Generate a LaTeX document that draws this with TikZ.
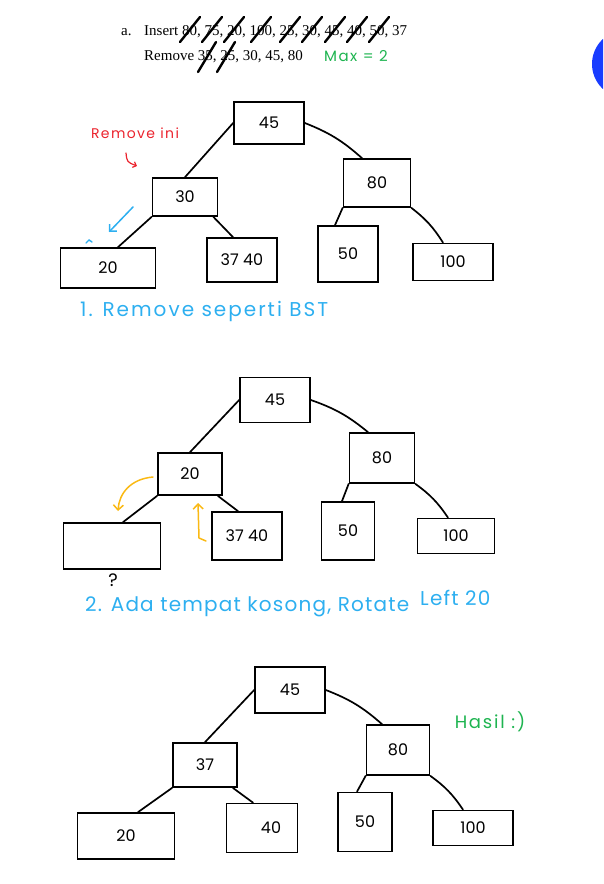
\documentclass[tikz,border=0pt]{standalone}
\usepackage{fontspec}
\setmainfont{Liberation Serif}
\newfontfamily\hand{Poppins}
\newfontfamily\handwide{Poppins}[LetterSpace=10]
\newfontfamily\handmid{Poppins}[LetterSpace=6]
\usepackage{tikz}
\usetikzlibrary{positioning,arrows.meta}
\definecolor{inkblue}{RGB}{45,175,240}
\definecolor{inkred}{RGB}{235,35,45}
\definecolor{inkgreen}{RGB}{30,180,80}
\definecolor{inkorange}{RGB}{250,185,20}
\definecolor{dotblue}{RGB}{25,60,255}
\tikzset{
  treenode/.style = {shape=rectangle, draw, line width=1.7pt, inner sep=0pt,
                     font=\hand\fontsize{16}{16}\selectfont},
  note/.style     = {inner sep=0pt, font=\handwide\fontsize{20}{20}\selectfont},
  task/.style     = {inner sep=0pt, anchor=base west,
                     font=\fontsize{15}{15}\selectfont},
  strike/.style   = {line width=2.4pt, line cap=round},
  link/.style     = {draw, line width=1.7pt, line cap=round},
  hint/.style     = {line width=1.5pt, line cap=round, -{Straight Barb[length=5pt]}}
}

\begin{document}
\begin{tikzpicture}[x=1pt, y=-1pt]
  \useasboundingbox (0,0) rectangle (603,884);
  \begin{scope}
    \clip (0,0) rectangle (603,884);
    \fill [dotblue] (626,64) circle [radius=34pt];
  \end{scope}

  % soal
  \node [task] (a) at (121,35) {a.};
  \node [task] (ins) at (144,35) {Insert 80, 75, 20, 100, 25, 30, 45, 40, 50, 37};
  \node [task] (rem) at (144,60) {Remove 35, 25, 30, 45, 80};
  \node [note, inkgreen, font=\handwide\fontsize{15}{15}\selectfont] (max) at (356,56) {Max = 2};
  \foreach \c in {190,212,234,261,290,312,335,357,379}
    \draw [strike] (\c-10,42) -- (\c+10,17);
  \foreach \c in {207,226}
    \draw [strike] (\c-9,72) -- (\c+9,42);

  % langkah 1
  \node [treenode, minimum width=70, minimum height=42] (a45) at (269,123) {45};
  \node [treenode, minimum width=65, minimum height=38] (a30) at (185,197) {30};
  \node [treenode, minimum width=67, minimum height=48] (a80) at (377,183) {80};
  \node [treenode, minimum width=95, minimum height=40] (a20) at (108,268) {20};
  \node [treenode, minimum width=70, minimum height=44] (a3740) at (242,260) {37 40};
  \node [treenode, minimum width=60, minimum height=56] (a50) at (348,254) {50};
  \node [treenode, minimum width=80, minimum height=37] (a100) at (453,262) {100};

  \path [link]
    (a45.west) edge (a30.north)
    (a45.east) edge [bend left=10] ([xshift=-15]a80.north)
    (a30.south west) edge ([xshift=10]a20.north)
    ([xshift=-5]a30.south east) edge ([xshift=-9]a3740.north)
    (a80.south west) edge ([xshift=-13]a50.north)
    (a80.south east) edge [bend left=10] ([xshift=-10]a100.north);

  \node [note, inkred, font=\handwide\fontsize{14}{14}\selectfont] (ini) at (135,133) {Remove ini};
  \draw [inkred, line width=1.2pt, line cap=round, -{Straight Barb[length=3pt]}]
    (126,153) .. controls (127,162) .. (137,166);
  \draw [hint, inkblue] (133,207) -- (109,232);
  \draw [inkblue, line width=1.4pt, line cap=round] (86,243) -- (89,240) -- (92,242);
  \node [note, inkblue, anchor=west] (step1) at (80,311) {1. Remove seperti BST};

  % langkah 2
  \node [treenode, minimum width=70, minimum height=45] (b45) at (275,400) {45};
  \node [treenode, minimum width=64, minimum height=42] (b20) at (190,474) {20};
  \node [treenode, minimum width=65, minimum height=50] (b80) at (382,458) {80};
  \node [treenode, minimum width=97, minimum height=46] (bnil) at (112,546) {};
  \node [treenode, minimum width=70, minimum height=48] (b3740) at (247,536) {37 40};
  \node [treenode, minimum width=53, minimum height=58] (b50) at (348,531) {50};
  \node [treenode, minimum width=77, minimum height=35] (b100) at (456,536) {100};

  \path [link]
    (b45.west) edge (b20.north)
    (b45.east) edge [bend left=10] ([xshift=-14]b80.north)
    (b20.south west) edge ([xshift=11]bnil.north)
    ([xshift=-5]b20.south east) edge ([xshift=-9]b3740.north)
    (b80.south west) edge ([xshift=-6]b50.north)
    (b80.south east) edge [bend left=10] ([xshift=-8]b100.north);

  \node [treenode, draw=none, font=\hand\fontsize{18}{18}\selectfont] (what) at (113,580) {?};
  \draw [hint, inkorange] (153,477) .. controls (130,479) and (119,494) .. (118,511);
  \draw [hint, inkorange] (206,541) -- (199,538) -- (198,503);
  \node [note, inkblue, anchor=west, font=\handmid\fontsize{20}{20}\selectfont] (step2) at (85,607) {2. Ada tempat kosong, Rotate};
  \node [note, inkblue, anchor=west, font=\handmid\fontsize{20}{20}\selectfont] (left) at (420,598) {Left 20};

  % hasil
  \node [treenode, minimum width=70, minimum height=46] (c45) at (290,690) {45};
  \node [treenode, minimum width=64, minimum height=44] (c37) at (205,765) {37};
  \node [treenode, minimum width=63, minimum height=50] (c80) at (398,750) {80};
  \node [treenode, minimum width=97, minimum height=46] (c20) at (126,836) {20};
  \node [treenode, minimum width=71, minimum height=49] (c40) at (262,828) {\hspace{18pt}40};
  \node [treenode, minimum width=54, minimum height=59] (c50) at (365,822) {50};
  \node [treenode, minimum width=80, minimum height=35] (c100) at (473,828) {100};

  \path [link]
    (c45.west) edge (c37.north)
    (c45.east) edge [bend left=10] ([xshift=-16]c80.north)
    (c37.south west) edge ([xshift=12]c20.north)
    ([xshift=-5]c37.south east) edge ([xshift=-9]c40.north)
    (c80.south west) edge ([xshift=-8]c50.north)
    (c80.south east) edge [bend left=10] ([xshift=-10]c100.north);

  \node [note, inkgreen, font=\handwide\fontsize{18}{18}\selectfont] (hasil) at (490,722) {Hasil :)};
\end{tikzpicture}
\end{document}
